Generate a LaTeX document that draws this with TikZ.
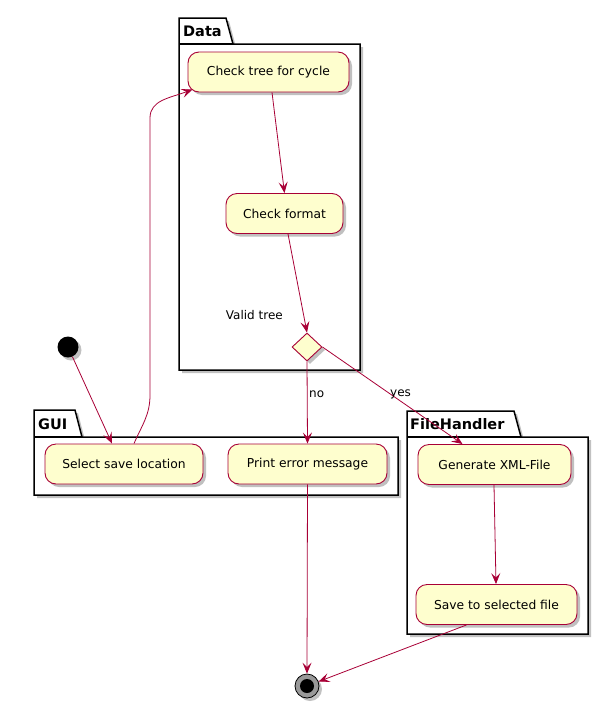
\documentclass[tikz,border=0pt]{standalone}
\usepackage{fontspec}
\usetikzlibrary{arrows.meta,shapes.geometric,shadows,calc}
\newfontfamily\umlfont{DejaVu Sans}
\definecolor{umlred}{HTML}{A80036}
\definecolor{umlfill}{HTML}{FEFECE}
\begin{document}
\begin{tikzpicture}[x=1pt,y=-1pt,
  umlshadow/.style={drop shadow={shadow xshift=3pt,shadow yshift=-3pt,fill=black!35,opacity=0.7}},
  act/.style={rectangle,rounded corners=11pt,draw=umlred,fill=umlfill,line width=0.9pt,
    minimum height=40pt,inner sep=0pt,font=\umlfont\fontsize{12.3}{14}\selectfont,umlshadow},
  pkg/.style={draw=black,line width=1.5pt,fill=white,umlshadow},
  pkglabel/.style={font=\umlfont\bfseries\fontsize{14.5}{16}\selectfont,anchor=west,inner sep=0pt},
  flow/.style={draw=umlred,line width=0.8pt,-{Stealth[length=11pt,width=9pt,inset=4.5pt]}},
  lbl/.style={font=\umlfont\fontsize{12}{14}\selectfont,inner sep=1pt}
]
\useasboundingbox (0,0) rectangle (612,710);

% packages
\path[pkg] (179,18) -- (226,18) -- (233,44) -- (360,44) -- (360,370) -- (179,370) -- cycle;
\draw[black,line width=1.5pt] (179,44) -- (233,44);
\node[pkglabel] (pdata) at (183,31) {Data};

\path[pkg] (34,410) -- (75,410) -- (82,437) -- (398,437) -- (398,495) -- (34,495) -- cycle;
\draw[black,line width=1.5pt] (34,437) -- (82,437);
\node[pkglabel] (pgui) at (38,424) {GUI};

\path[pkg] (407,411) -- (514,411) -- (521,437) -- (588,437) -- (588,634) -- (407,634) -- cycle;
\draw[black,line width=1.5pt] (407,437) -- (521,437);
\node[pkglabel] (pfile) at (410,424) {FileHandler};

% activities
\node[act,minimum width=161pt] (chk) at (268.5,72) {Check tree for cycle};
\node[act,minimum width=117pt] (fmt) at (284.5,213.5) {Check format};
\node[diamond,draw=umlred,fill=umlfill,line width=0.9pt,inner sep=0pt,
      minimum width=30pt,minimum height=28pt,umlshadow] (dec) at (307,347) {};
\node[lbl,anchor=east] (vt) at (284,315) {Valid tree};
\node[act,minimum width=158pt] (sel) at (124,464) {Select save location};
\node[act,minimum width=159pt] (err) at (307.5,464) {Print error message};
\node[act,minimum width=153pt] (gen) at (494.5,464.5) {Generate XML-File};
\node[act,minimum width=161pt] (sav) at (496.5,604.5) {Save to selected file};

% start / end
\node[circle,fill=black,minimum size=21pt,inner sep=0pt,umlshadow] (start) at (68,347) {};
\node[circle,draw=black,fill=black!40,line width=0.8pt,minimum size=24pt,inner sep=0pt,umlshadow] (stop) at (307,686) {};
\node[circle,fill=black,minimum size=14pt,inner sep=0pt] (stopdot) at (stop) {};

% connectors
\draw[flow] (start) -- ([xshift=-12pt]sel.north);
\draw[flow] ([xshift=10pt]sel.north) .. controls (142,425) and (150,415) .. (150,395)
  -- (150,118) .. controls (150,100) and (170,98) .. ($(chk.south west)+(5,-3)$);
\draw[flow] ([xshift=3.5pt]chk.south) -- (fmt.north);
\draw[flow] ([xshift=3.5pt]fmt.south) -- (dec.north);
\draw[flow] (dec.south) -- (err.north);
\draw[flow] (dec.east) -- ([xshift=-32pt]gen.north);
\draw[flow] (err.south) -- (stop.north);
\draw[flow] ([xshift=-0.5pt]gen.south) -- ([xshift=-0.5pt]sav.north);
\draw[flow] ([xshift=-30pt]sav.south) -- (stop);

% branch labels
\node[lbl,anchor=west] (no) at (308,394) {no};
\node[lbl,anchor=west] (yes) at (389,394) {yes};
\end{tikzpicture}
\end{document}
